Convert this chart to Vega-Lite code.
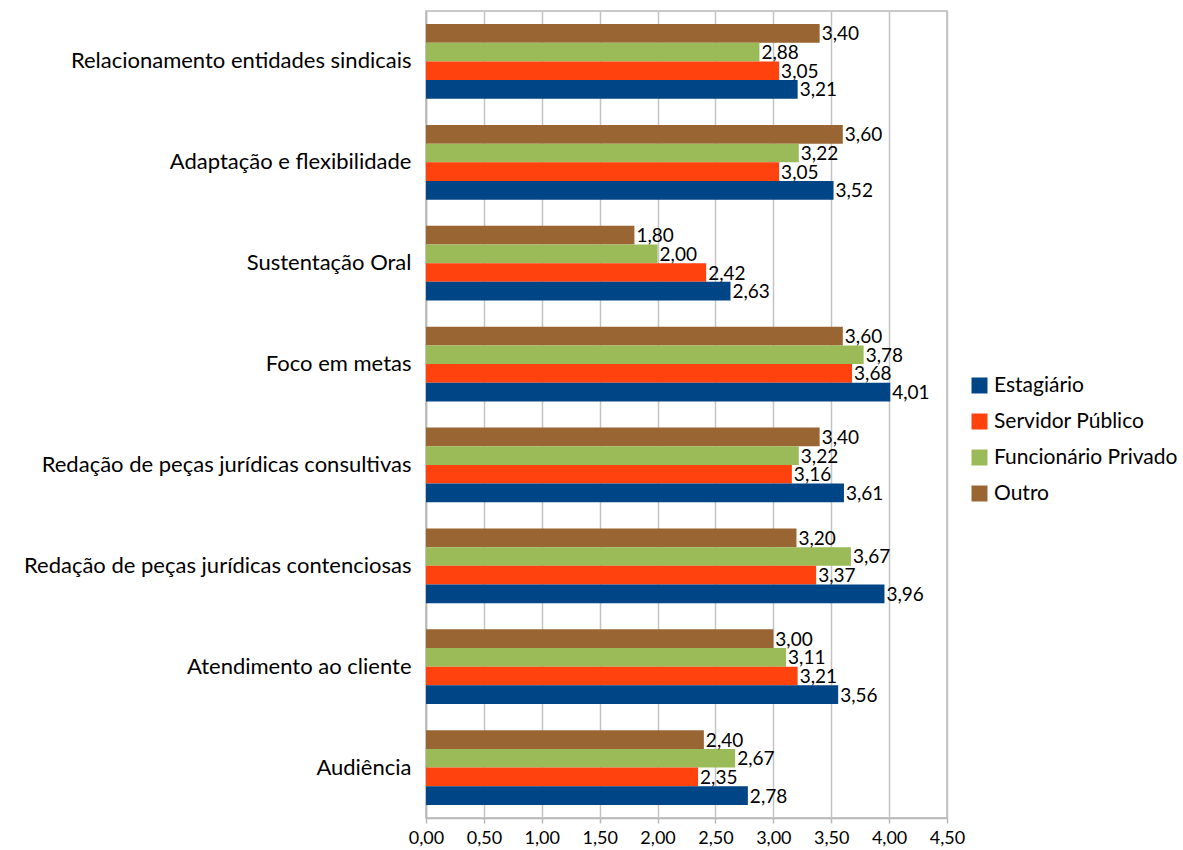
{
  "$schema": "https://vega.github.io/schema/vega-lite/v6.json",
  "autosize": "none",
  "width": 521,
  "height": 807,
  "padding": {"left": 426, "top": 11, "right": 236, "bottom": 32},
  "background": "white",
  "config": {
    "locale": {"number": {"decimal": ",", "thousands": ".", "grouping": [3], "currency": ["R$", ""]}},
    "font": "Lato",
    "view": {"stroke": "#b8b8b8", "strokeWidth": 1.5}
  },
  "data": {
    "values": [
      {"competencia": "Relacionamento entidades sindicais", "grupo": "Outro", "media": 3.40},
      {"competencia": "Relacionamento entidades sindicais", "grupo": "Funcionário Privado", "media": 2.88},
      {"competencia": "Relacionamento entidades sindicais", "grupo": "Servidor Público", "media": 3.05},
      {"competencia": "Relacionamento entidades sindicais", "grupo": "Estagiário", "media": 3.21},
      {"competencia": "Adaptação e flexibilidade", "grupo": "Outro", "media": 3.60},
      {"competencia": "Adaptação e flexibilidade", "grupo": "Funcionário Privado", "media": 3.22},
      {"competencia": "Adaptação e flexibilidade", "grupo": "Servidor Público", "media": 3.05},
      {"competencia": "Adaptação e flexibilidade", "grupo": "Estagiário", "media": 3.52},
      {"competencia": "Sustentação Oral", "grupo": "Outro", "media": 1.80},
      {"competencia": "Sustentação Oral", "grupo": "Funcionário Privado", "media": 2.00},
      {"competencia": "Sustentação Oral", "grupo": "Servidor Público", "media": 2.42},
      {"competencia": "Sustentação Oral", "grupo": "Estagiário", "media": 2.63},
      {"competencia": "Foco em metas", "grupo": "Outro", "media": 3.60},
      {"competencia": "Foco em metas", "grupo": "Funcionário Privado", "media": 3.78},
      {"competencia": "Foco em metas", "grupo": "Servidor Público", "media": 3.68},
      {"competencia": "Foco em metas", "grupo": "Estagiário", "media": 4.01},
      {"competencia": "Redação de peças jurídicas consultivas", "grupo": "Outro", "media": 3.40},
      {"competencia": "Redação de peças jurídicas consultivas", "grupo": "Funcionário Privado", "media": 3.22},
      {"competencia": "Redação de peças jurídicas consultivas", "grupo": "Servidor Público", "media": 3.16},
      {"competencia": "Redação de peças jurídicas consultivas", "grupo": "Estagiário", "media": 3.61},
      {"competencia": "Redação de peças jurídicas contenciosas", "grupo": "Outro", "media": 3.20},
      {"competencia": "Redação de peças jurídicas contenciosas", "grupo": "Funcionário Privado", "media": 3.67},
      {"competencia": "Redação de peças jurídicas contenciosas", "grupo": "Servidor Público", "media": 3.37},
      {"competencia": "Redação de peças jurídicas contenciosas", "grupo": "Estagiário", "media": 3.96},
      {"competencia": "Atendimento ao cliente", "grupo": "Outro", "media": 3.00},
      {"competencia": "Atendimento ao cliente", "grupo": "Funcionário Privado", "media": 3.11},
      {"competencia": "Atendimento ao cliente", "grupo": "Servidor Público", "media": 3.21},
      {"competencia": "Atendimento ao cliente", "grupo": "Estagiário", "media": 3.56},
      {"competencia": "Audiência", "grupo": "Outro", "media": 2.40},
      {"competencia": "Audiência", "grupo": "Funcionário Privado", "media": 2.67},
      {"competencia": "Audiência", "grupo": "Servidor Público", "media": 2.35},
      {"competencia": "Audiência", "grupo": "Estagiário", "media": 2.78}
    ]
  },
  "encoding": {
    "y": {
      "field": "competencia",
      "type": "nominal",
      "sort": [
        "Relacionamento entidades sindicais",
        "Adaptação e flexibilidade",
        "Sustentação Oral",
        "Foco em metas",
        "Redação de peças jurídicas consultivas",
        "Redação de peças jurídicas contenciosas",
        "Atendimento ao cliente",
        "Audiência"
      ],
      "scale": {"paddingInner": 0.26, "paddingOuter": 0.13},
      "axis": {
        "title": null,
        "domainColor": "#b8b8b8",
        "domainWidth": 1.5,
        "ticks": false,
        "labelFontSize": 22,
        "labelColor": "#000000",
        "labelPadding": 15,
        "labelLimit": 430
      }
    },
    "yOffset": {
      "field": "grupo",
      "type": "nominal",
      "sort": ["Outro", "Funcionário Privado", "Servidor Público", "Estagiário"],
      "scale": {"paddingInner": 0, "paddingOuter": 0}
    },
    "x": {
      "field": "media",
      "type": "quantitative",
      "scale": {"domain": [0, 4.5], "nice": false},
      "axis": {
        "title": null,
        "values": [0, 0.5, 1, 1.5, 2, 2.5, 3, 3.5, 4, 4.5],
        "format": ".2f",
        "grid": true,
        "gridColor": "#c4c4c4",
        "gridWidth": 1.5,
        "domainColor": "#b8b8b8",
        "domainWidth": 1.5,
        "tickColor": "#b8b8b8",
        "tickWidth": 1.5,
        "tickSize": 5,
        "labelFontSize": 18,
        "labelColor": "#000000",
        "labelPadding": 6,
        "labelFlush": false
      }
    }
  },
  "layer": [
    {
      "mark": {"type": "bar"},
      "encoding": {
        "color": {
          "field": "grupo",
          "type": "nominal",
          "scale": {
            "domain": ["Estagiário", "Servidor Público", "Funcionário Privado", "Outro"],
            "range": ["#004586", "#ff420e", "#9bbb59", "#996633"]
          },
          "legend": {
            "title": null,
            "orient": "none",
            "legendX": 543,
            "legendY": 364,
            "symbolType": "square",
            "symbolSize": 256,
            "symbolStrokeWidth": 0,
            "labelFontSize": 21,
            "labelColor": "#000000",
            "rowPadding": 14,
            "labelOffset": 4,
            "labelLimit": 250
          }
        }
      }
    },
    {
      "mark": {"type": "text", "align": "left", "baseline": "middle", "dx": 2, "dy": 1, "fontSize": 19, "color": "#000000"},
      "encoding": {
        "text": {"field": "media", "type": "quantitative", "format": ".2f"}
      }
    }
  ]
}
